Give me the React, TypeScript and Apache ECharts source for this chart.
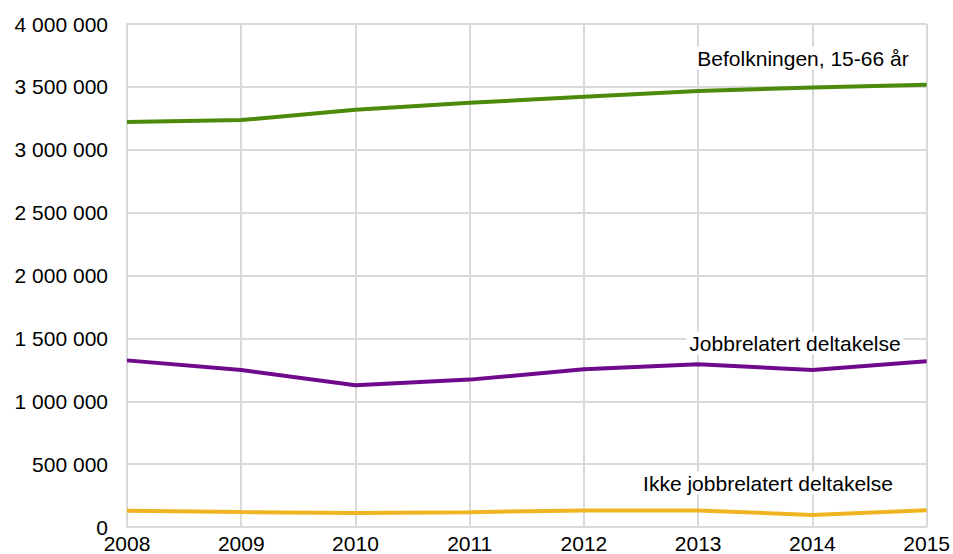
import React, { useEffect, useRef } from "react";
import * as echarts from "echarts";

const years = ["2008", "2009", "2010", "2011", "2012", "2013", "2014", "2015"];
const befolkningen = [3220000, 3236000, 3318000, 3373000, 3421000, 3468000, 3495000, 3516000];
const jobbrelatert = [1325000, 1249000, 1127000, 1172000, 1254000, 1295000, 1249000, 1318000];
const ikkeJobbrelatert = [129000, 119000, 112000, 118000, 131000, 132000, 96000, 134000];

const seriesNames = ["Befolkningen, 15-66 år", "Jobbrelatert deltakelse", "Ikke jobbrelatert deltakelse"];
const seriesColors = ["#4b8a0b", "#6f0a8c", "#efb421"];

const FONT = "'Liberation Sans', Arial, sans-serif";

function fmt(v: number): string {
  return String(v).replace(/\B(?=(\d{3})+(?!\d))/g, " ");
}

export default function App() {
  const ref = useRef<HTMLDivElement>(null);
  useEffect(() => {
    if (!ref.current) return;
    const chart = echarts.init(ref.current, undefined, { renderer: "svg" });
    const lineSeries = [befolkningen, jobbrelatert, ikkeJobbrelatert].map((d, i) => ({
      name: seriesNames[i],
      type: "line" as const,
      data: d,
      symbol: "none",
      lineStyle: { color: seriesColors[i], width: 4 },
      itemStyle: { color: seriesColors[i] },
      z: 3,
    }));
    const labelPos = [
      { x: 803, y: 58 },
      { x: 795, y: 343 },
      { x: 768, y: 483 },
    ];
    chart.setOption({
      animation: false,
      backgroundColor: "#fff",
      textStyle: { fontFamily: FONT },
      grid: { left: 127, right: 24, top: 24, bottom: 26, containLabel: false },
      xAxis: {
        type: "category",
        data: years,
        boundaryGap: false,
        axisLine: { show: true, lineStyle: { color: "#d9d9d9", width: 2 } },
        axisTick: { show: false },
        splitLine: { show: true, lineStyle: { color: "#d9d9d9", width: 2 } },
        axisLabel: { color: "#000", fontSize: 21, fontFamily: FONT, margin: 6 },
      },
      yAxis: {
        type: "value",
        min: 0,
        max: 4000000,
        interval: 500000,
        axisLine: { show: true, lineStyle: { color: "#d9d9d9", width: 2 } },
        axisTick: { show: false },
        splitLine: { show: true, lineStyle: { color: "#d9d9d9", width: 2 } },
        axisLabel: { color: "#000", fontSize: 21, fontFamily: FONT, margin: 19, formatter: (v: number) => fmt(v) },
      },
      series: lineSeries,
      graphic: seriesNames.map((name, i) => ({
        type: "text",
        x: labelPos[i].x,
        y: labelPos[i].y,
        z: 10,
        style: {
          text: name,
          fill: "#000",
          font: `21px ${FONT}`,
          align: "center",
          verticalAlign: "middle",
          backgroundColor: "#fff",
          padding: [1, 3],
        },
      })),
    });
    return () => chart.dispose();
  }, []);
  return <div ref={ref} style={{ width: 953, height: 554, position: "absolute", left: 0, top: 0 }} />;
}
